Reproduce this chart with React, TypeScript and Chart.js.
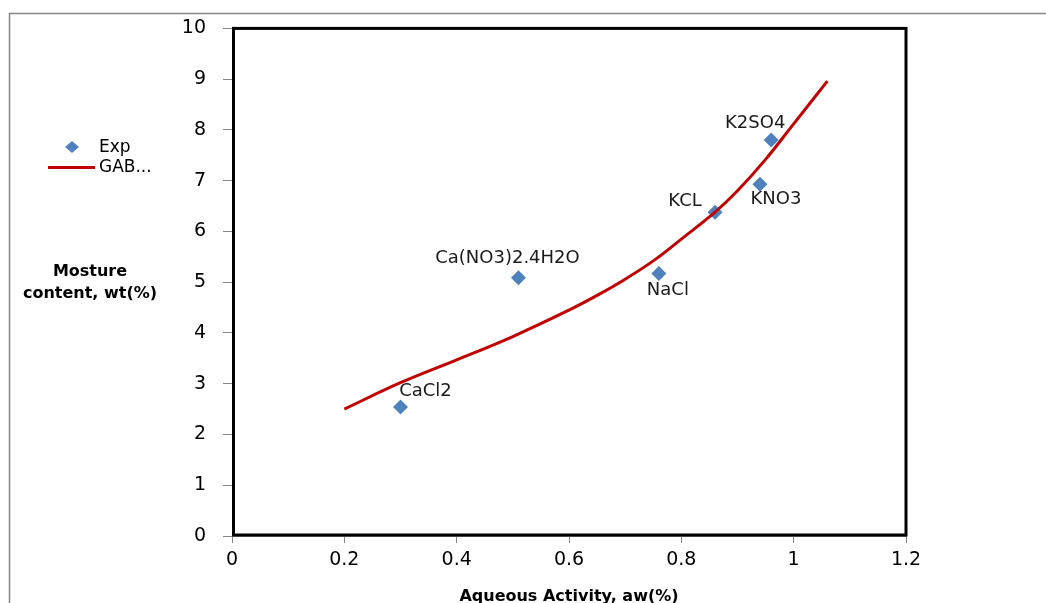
import React, { useEffect, useRef } from "react";
import { Chart, registerables } from "chart.js";

Chart.register(...registerables);

// Experimental points
const expNames = ["CaCl2", "Ca(NO3)2.4H2O", "NaCl", "KCL", "KNO3", "K2SO4"];
const expX = [0.3, 0.51, 0.76, 0.86, 0.94, 0.96];
const expY = [2.54, 5.09, 5.17, 6.38, 6.93, 7.8];

// GAB model curve
const gabX = [0.2, 0.3, 0.4, 0.5, 0.6, 0.65, 0.7, 0.75, 0.8, 0.86, 0.9, 0.95, 1.0, 1.06];
const gabY = [2.5, 3.02, 3.47, 3.93, 4.45, 4.74, 5.06, 5.42, 5.85, 6.38, 6.8, 7.42, 8.12, 8.96];

// Axis tick labels
const xTickLabels = ["0", "0.2", "0.4", "0.6", "0.8", "1", "1.2"];
const yTickLabels = ["0", "1", "2", "3", "4", "5", "6", "7", "8", "9", "10"];

const seriesNames = ["Exp", "GAB..."];

// label offsets (pixels, relative to point)
const labelOffsets = [
  [25, -16],
  [-11, -19],
  [9, 17],
  [-30, -11],
  [16, 15],
  [-16, -17],
];

const FONT = "'DejaVu Sans', sans-serif";
const BLUE = "#4F81BD";
const RED = "#C00000";
const GRAY = "#868686";

export default function App() {
  const ref = useRef<HTMLCanvasElement | null>(null);

  useEffect(() => {
    document.body.style.margin = "0";
    const canvas = ref.current;
    if (!canvas) return;

    const decor = {
      id: "decor",
      afterDraw(chart: any) {
        const ctx = chart.ctx;
        const a = chart.chartArea;
        ctx.save();
        // outer chart border
        ctx.strokeStyle = GRAY;
        ctx.lineWidth = 1.5;
        ctx.beginPath();
        ctx.moveTo(9.5, 603);
        ctx.lineTo(9.5, 13.5);
        ctx.lineTo(1046, 13.5);
        ctx.stroke();

        // plot area black frame
        ctx.strokeStyle = "#000";
        ctx.lineWidth = 3;
        ctx.strokeRect(a.left + 1.5, a.top, a.right - a.left - 1.5, a.bottom - a.top - 1);

        // axis titles
        ctx.fillStyle = "#000";
        ctx.font = `bold 16px ${FONT}`;
        ctx.textAlign = "center";
        ctx.textBaseline = "middle";
        ctx.fillText("Aqueous Activity, aw(%)", (a.left + a.right) / 2, 597);
        ctx.fillText("Mosture", 90, 272);
        ctx.fillText("content, wt(%)", 90, 294);

        // legend
        ctx.font = `17px ${FONT}`;
        ctx.textAlign = "left";
        ctx.fillText(seriesNames[0], 99, 148);
        ctx.fillText(seriesNames[1], 99, 168);
        ctx.fillStyle = BLUE;
        ctx.beginPath();
        ctx.moveTo(72, 141);
        ctx.lineTo(79, 147);
        ctx.lineTo(72, 153);
        ctx.lineTo(65, 147);
        ctx.closePath();
        ctx.fill();
        ctx.strokeStyle = RED;
        ctx.lineWidth = 3;
        ctx.beginPath();
        ctx.moveTo(48, 167.5);
        ctx.lineTo(95, 167.5);
        ctx.stroke();
        ctx.restore();
      },
      afterDatasetsDraw(chart: any) {
        const ctx = chart.ctx;
        const meta = chart.getDatasetMeta(1);
        ctx.save();
        ctx.fillStyle = "#1a1a1a";
        ctx.font = `18px ${FONT}`;
        ctx.textAlign = "center";
        ctx.textBaseline = "middle";
        meta.data.forEach((el: any, i: number) => {
          const off = labelOffsets[i];
          ctx.fillText(expNames[i], el.x + off[0], el.y + off[1]);
        });
        ctx.restore();
      },
    };

    const chart = new Chart(canvas, {
      type: "scatter",
      data: {
        datasets: [
          {
            label: seriesNames[1],
            type: "line",
            data: gabX.map((x, i) => ({ x, y: gabY[i] })),
            borderColor: RED,
            borderWidth: 3,
            pointRadius: 0,
            tension: 0.4,
            fill: false,
            order: 0,
          } as any,
          {
            label: seriesNames[0],
            data: expX.map((x, i) => ({ x, y: expY[i] })),
            backgroundColor: BLUE,
            borderColor: BLUE,
            pointStyle: "rectRot",
            pointRadius: 7.5,
            borderWidth: 0,
            order: 1,
          },
        ],
      },
      options: {
        responsive: false,
        animation: false,
        layout: { padding: { top: 27, right: 140, left: 0, bottom: 0 } },
        plugins: {
          legend: { display: false },
          tooltip: { enabled: false },
        },
        scales: {
          x: {
            type: "linear",
            min: 0,
            max: 1.2,
            ticks: {
              stepSize: 0.2,
              callback: (_v: any, i: number) => xTickLabels[i],
              font: { family: FONT, size: 19 },
              color: "#000",
              padding: 6,
              maxRotation: 0,
            },
            grid: { drawOnChartArea: false, tickLength: 7, color: GRAY },
            border: { color: GRAY, width: 1 },
            afterFit: (s: any) => {
              s.height = 67;
            },
          },
          y: {
            type: "linear",
            min: 0,
            max: 10,
            ticks: {
              stepSize: 1,
              callback: (_v: any, i: number) => yTickLabels[i],
              font: { family: FONT, size: 19 },
              color: "#000",
              padding: 17,
            },
            grid: { drawOnChartArea: false, tickLength: 9, color: GRAY },
            border: { color: GRAY, width: 1 },
            afterFit: (s: any) => {
              s.width = 232;
            },
          },
        },
      },
      plugins: [decor],
    });

    return () => chart.destroy();
  }, []);

  return (
    <canvas
      ref={ref}
      width={1046}
      height={603}
      style={{ display: "block", width: 1046, height: 603 }}
    />
  );
}
